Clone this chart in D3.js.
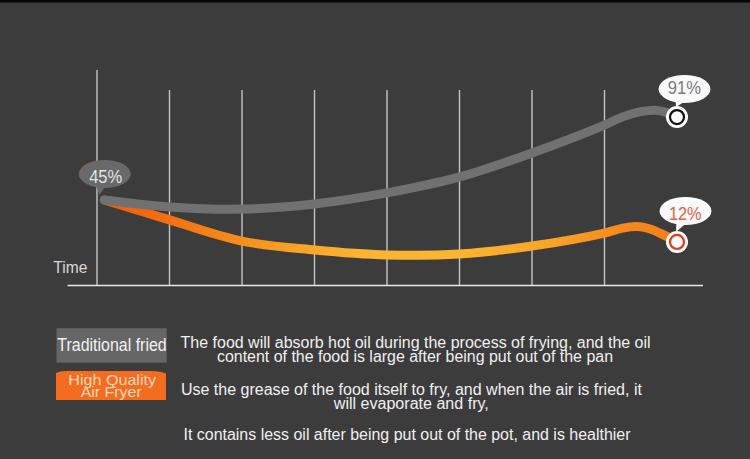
<!DOCTYPE html>
<html>
<head>
<meta charset="utf-8">
<script src="https://cdn.jsdelivr.net/npm/d3@7"></script>
<style>
  html, body { margin: 0; padding: 0; background: #3c3c3c; }
  svg { display: block; }
  text { font-family: "Liberation Sans", Arial, sans-serif; }
</style>
</head>
<body>
<svg id="chart" width="750" height="459"></svg>
<script>
// ---------- data ----------
const gridTimes = [0, 1, 2, 3, 4, 5, 6, 7];
const traditionalTimes  = [0.1, 1, 2, 3, 4, 5, 6, 7, 7.25, 7.5, 7.7, 7.85, 8];
const traditionalValues = [39.8, 36.6, 35.6, 38.0, 43.1, 50.5, 61.6, 74.5, 78.3, 80.7, 81.4, 80.4, 78.2];
const fryerTimes  = [0.1, 1, 2, 3, 4, 5, 6, 7, 7.25, 7.45, 7.62, 7.8, 8];
const fryerValues = [39.8, 30.6, 20.8, 16.7, 14.4, 14.8, 18.5, 24.5, 26.8, 27.5, 26.5, 23.9, 20.4];
const pointLabels = ["45%", "91%", "12%"];
const axisLabel = "Time";
const legendNames = ["Traditional fried", "High Quality", "Air Fryer"];
const descTraditional = [
  "The food will absorb hot oil during the process of frying, and the oil",
  "content of the food is large after being put out of the pan"
];
const descFryer = [
  "Use the grease of the food itself to fry, and when the air is fried, it",
  "will evaporate and fry,",
  "It contains less oil after being put out of the pot, and is healthier"
];

// ---------- setup ----------
const svg = d3.select("#chart");
const x = d3.scaleLinear().domain([0, 8]).range([97, 677]);
const y = d3.scaleLinear().domain([0, 100]).range([286, 70]);

svg.append("rect").attr("x", 0).attr("y", 0).attr("width", 750).attr("height", 459).attr("fill", "#3c3c3c");
svg.append("rect").attr("x", 0).attr("y", 0).attr("width", 750).attr("height", 2.5).attr("fill", "#050505");

// grid lines
svg.append("g").selectAll("line").data(gridTimes).join("line")
  .attr("x1", d => x(d)).attr("x2", d => x(d))
  .attr("y1", (d, i) => i === 0 ? 70 : 90)
  .attr("y2", 286)
  .attr("stroke", "#c4c4c4").attr("stroke-width", 1.4);

// baseline
svg.append("line").attr("x1", 67.5).attr("x2", 703).attr("y1", 285.5).attr("y2", 285.5)
  .attr("stroke", "#e6e6e6").attr("stroke-width", 1.6);

// helper for compressed text
function label(str, cx, by, size, color, width, anchor) {
  svg.append("text")
    .attr("x", cx).attr("y", by)
    .attr("text-anchor", anchor || "middle")
    .attr("font-size", size)
    .attr("fill", color)
    .attr("textLength", width)
    .attr("lengthAdjust", "spacingAndGlyphs")
    .text(str);
}

label(axisLabel, 53.3, 273.3, 17, "#d8d8d8", 34, "start");

// orange gradient
const defs = svg.append("defs");
const grad = defs.append("linearGradient").attr("id", "og")
  .attr("gradientUnits", "userSpaceOnUse")
  .attr("x1", x(0)).attr("x2", x(8)).attr("y1", 0).attr("y2", 0);
[[0, "#f05a0c"], [0.12, "#f36f12"], [0.28, "#f7961f"], [0.45, "#fbb431"], [0.62, "#fbb531"],
 [0.78, "#f9a427"], [0.9, "#f68b1d"], [1, "#f47e1b"]]
  .forEach(s => grad.append("stop").attr("offset", s[0]).attr("stop-color", s[1]));

const line = d3.line().x(d => x(d[0])).y(d => y(d[1])).curve(d3.curveCatmullRom.alpha(0.5));
const fryerPts = fryerTimes.map((t, i) => [t, fryerValues[i]]);
const tradPts = traditionalTimes.map((t, i) => [t, traditionalValues[i]]);

svg.append("path").attr("d", line(fryerPts)).attr("fill", "none")
  .attr("stroke", "url(#og)").attr("stroke-width", 9).attr("stroke-linecap", "round");
svg.append("path").attr("d", line(tradPts)).attr("fill", "none")
  .attr("stroke", "#717171").attr("stroke-width", 9).attr("stroke-linecap", "round");

// end markers
const tEnd = tradPts[tradPts.length - 1];
const fEnd = fryerPts[fryerPts.length - 1];
function marker(p, ring) {
  svg.append("circle").attr("cx", x(p[0])).attr("cy", y(p[1])).attr("r", 11).attr("fill", "#ffffff");
  svg.append("circle").attr("cx", x(p[0])).attr("cy", y(p[1])).attr("r", 7)
    .attr("fill", "#ffffff").attr("stroke", ring).attr("stroke-width", 2.2);
}
marker(tEnd, "#111111");
marker(fEnd, "#e23a1c");

// bubbles
function bubble(cx, cy, tipX, tipY, fill) {
  svg.append("path")
    .attr("d", `M${cx - 9},${cy + 10} L${tipX},${tipY} L${cx + 1},${cy + 12} Z`)
    .attr("fill", fill);
  svg.append("ellipse").attr("cx", cx).attr("cy", cy).attr("rx", 26).attr("ry", 14).attr("fill", fill);
}
bubble(104.7, 174, x(traditionalTimes[0]) - 5, y(traditionalValues[0]) - 5, "#696969");
label(pointLabels[0], 105.7, 183.3, 18.5, "#e4e4e4", 33);

bubble(684.5, 89, x(tEnd[0]) - 1, y(tEnd[1]) - 10, "#fbfbfb");
label(pointLabels[1], 684.3, 94, 18.5, "#7a7a7a", 33.3);

bubble(685.5, 211, x(fEnd[0]) - 1, y(fEnd[1]) - 10, "#fbfbfb");
label(pointLabels[2], 685.3, 220, 18.5, "#ec5a40", 32.7);

// legend boxes
svg.append("rect").attr("x", 56.5).attr("y", 328.3).attr("width", 110.2).attr("height", 34.4).attr("fill", "#666666");
label(legendNames[0], 112, 350.7, 17.5, "#f2f2f2", 109.4);

svg.append("path")
  .attr("d", "M56,373 Q60,370.5 70,371 L150,371 Q160,370.8 166,373.5 L166,400 L56,400 Z")
  .attr("fill", "#f36c1f");
label(legendNames[1], 112.2, 385, 15.5, "#fcd7bd", 87.7);
label(legendNames[2], 111.2, 396.7, 15.5, "#fcd7bd", 61);

// descriptions
const descColor = "#f0f0f0";
label(descTraditional[0], 415.6, 348, 16, descColor, 470);
label(descTraditional[1], 415, 362, 16, descColor, 396);
label(descFryer[0], 411.4, 395, 16, descColor, 461);
label(descFryer[1], 411.3, 409, 16, descColor, 155);
label(descFryer[2], 407, 440, 16, descColor, 447);
</script>
</body>
</html>
